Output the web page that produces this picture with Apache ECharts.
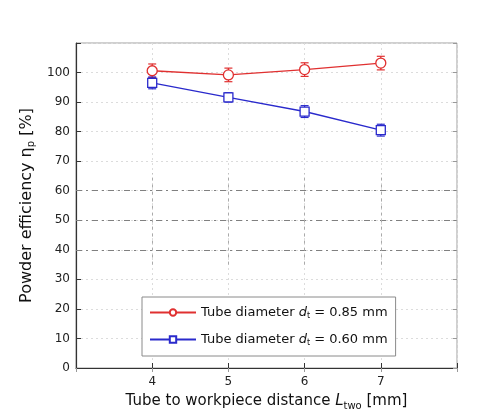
<!DOCTYPE html>
<html>
<head>
<meta charset="utf-8">
<script src="https://cdn.jsdelivr.net/npm/echarts@6/dist/echarts.min.js"></script>
<style>html,body{margin:0;padding:0;background:#fff;}#c{width:489px;height:416px;}</style>
</head>
<body>
<div id="c"></div>
<script>
var distances = [4, 5, 6, 7];
var eff085 = [100.6, 99.2, 101.0, 103.2];
var err085 = [2.3, 2.3, 2.3, 2.3];
var eff060 = [96.5, 91.6, 86.8, 80.5];
var err060 = [2.0, 1.6, 2.0, 2.0];
var yTicks = [0, 10, 20, 30, 40, 50, 60, 70, 80, 90, 100];
var xTicks = [4, 5, 6, 7];

var RED = '#e03030', BLUE = '#2a2acc';
var FONT = 'DejaVu Sans, Liberation Sans, sans-serif';

function pts(y) { return distances.map(function (x, i) { return [x, y[i]]; }); }
function errData(y, e) { return distances.map(function (x, i) { return [x, y[i] - e[i], y[i] + e[i]]; }); }

function errSeries(y, e, color) {
  return {
    type: 'custom',
    silent: true,
    z: 3,
    data: errData(y, e),
    renderItem: function (params, api) {
      var x = api.value(0);
      var lo = api.coord([x, api.value(1)]);
      var hi = api.coord([x, api.value(2)]);
      var w = 4;
      return {
        type: 'group',
        children: [
          { type: 'line', shape: { x1: lo[0], y1: lo[1], x2: hi[0], y2: hi[1] }, style: { stroke: color, lineWidth: 1.2 } },
          { type: 'line', shape: { x1: lo[0] - w, y1: lo[1], x2: lo[0] + w, y2: lo[1] }, style: { stroke: color, lineWidth: 1.2 } },
          { type: 'line', shape: { x1: hi[0] - w, y1: hi[1], x2: hi[0] + w, y2: hi[1] }, style: { stroke: color, lineWidth: 1.2 } }
        ]
      };
    }
  };
}

var vSeg = xTicks.map(function (x) {
  return [{ coord: [x, 35], lineStyle: { color: '#aaa', type: [3, 4] } }, { coord: [x, 66] }];
});

var chart = echarts.init(document.getElementById('c'));
chart.setOption({
  backgroundColor: '#fff',
  animation: false,
  textStyle: { fontFamily: FONT },
  grid: { left: 76, right: 32, top: 43, bottom: 48, show: true, borderColor: '#a0a0a0', borderWidth: 1, backgroundColor: '#fff' },
  legend: {
    orient: 'vertical',
    left: 142, top: 297,
    padding: [9, 8, 9, 7],
    itemGap: 13,
    itemWidth: 46, itemHeight: 8,
    backgroundColor: '#fff',
    borderColor: '#8a8a8a', borderWidth: 1,
    data: ['d085', 'd060'],
    formatter: function (n) {
      return n === 'd085'
        ? '{n|Tube diameter }{i|d}{s|t}{n| = 0.85 mm}'
        : '{n|Tube diameter }{i|d}{s|t}{n| = 0.60 mm}';
    },
    textStyle: {
      fontFamily: FONT, fontSize: 13, color: '#111',
      rich: {
        n: { fontFamily: FONT, fontSize: 13, color: '#111' },
        i: { fontFamily: FONT, fontSize: 13, fontStyle: 'italic', color: '#111' },
        s: { fontFamily: FONT, fontSize: 8, color: '#111', verticalAlign: 'bottom', padding: [7, 0, 0, 0] }
      }
    }
  },
  xAxis: [{
    type: 'value', min: 3, max: 8, interval: 1,
    name: '{n|Tube to workpiece distance }{i|L}{s|two}{n| [mm]}',
    nameLocation: 'middle', nameGap: 24,
    nameTextStyle: {
      fontFamily: FONT, fontSize: 15, color: '#111',
      rich: {
        n: { fontFamily: FONT, fontSize: 15, color: '#111' },
        i: { fontFamily: FONT, fontSize: 15, fontStyle: 'italic', color: '#111' },
        s: { fontFamily: FONT, fontSize: 10, color: '#111', verticalAlign: 'bottom', padding: [9, 0, 0, 0] }
      }
    },
    axisLine: { show: true, onZero: false, lineStyle: { color: '#333', width: 1.2 } },
    axisTick: { show: true, inside: true, length: 5, lineStyle: { color: '#333' } },
    axisLabel: {
      fontFamily: FONT, fontSize: 12, color: '#222', margin: 8,
      formatter: function (v) { return xTicks.indexOf(v) >= 0 ? String(v) : ''; }
    },
    splitLine: { show: true, lineStyle: { color: '#dcdcdc', type: [2, 3] } }
  }, {
    type: 'value', min: 3, max: 8, interval: 1, position: 'top',
    axisLine: { show: false }, axisLabel: { show: false },
    axisTick: { show: true, inside: true, length: 4, lineStyle: { color: '#999' } },
    splitLine: { show: false }
  }],
  yAxis: [{
    type: 'value', min: 0, max: 110, interval: 10,
    name: '{n|Powder efficiency η}{s|p}{n| [%]}',
    nameLocation: 'middle', nameGap: 40, nameRotate: 90,
    nameTextStyle: {
      fontFamily: FONT, fontSize: 16, color: '#111',
      rich: {
        n: { fontFamily: FONT, fontSize: 16, color: '#111' },
        s: { fontFamily: FONT, fontSize: 10, color: '#111', verticalAlign: 'bottom', padding: [9, 0, 0, 0] }
      }
    },
    axisLine: { show: true, onZero: false, lineStyle: { color: '#333', width: 1.2 } },
    axisTick: { show: true, inside: true, length: 5, lineStyle: { color: '#333' } },
    axisLabel: {
      fontFamily: FONT, fontSize: 12, color: '#222', margin: 6,
      formatter: function (v) { return yTicks.indexOf(v) >= 0 ? String(v) : ''; }
    },
    splitLine: { show: true, lineStyle: { color: '#dcdcdc', type: [2, 3] } }
  }, {
    type: 'value', min: 0, max: 110, interval: 10, position: 'right',
    axisLine: { show: false }, axisLabel: { show: false },
    axisTick: { show: true, inside: true, length: 4, lineStyle: { color: '#999' } },
    splitLine: { show: false }
  }],
  series: [
    {
      name: 'd085', type: 'line', data: pts(eff085), z: 4,
      symbol: 'circle', symbolSize: 10,
      itemStyle: { color: '#fff', borderColor: RED, borderWidth: 1.3 },
      lineStyle: { color: RED, width: 1.4 },
      markLine: {
        silent: true, symbol: 'none', label: { show: false },
        lineStyle: { color: '#808080', type: [6, 4, 2, 4], width: 1 },
        data: [{ yAxis: 40 }, { yAxis: 50 }, { yAxis: 60 }].concat(vSeg)
      }
    },
    {
      name: 'd060', type: 'line', data: pts(eff060), z: 4,
      symbol: 'rect', symbolSize: 9,
      itemStyle: { color: '#fff', borderColor: BLUE, borderWidth: 1.3 },
      lineStyle: { color: BLUE, width: 1.4 }
    },
    errSeries(eff085, err085, RED),
    errSeries(eff060, err060, BLUE)
  ]
});
</script>
</body>
</html>
